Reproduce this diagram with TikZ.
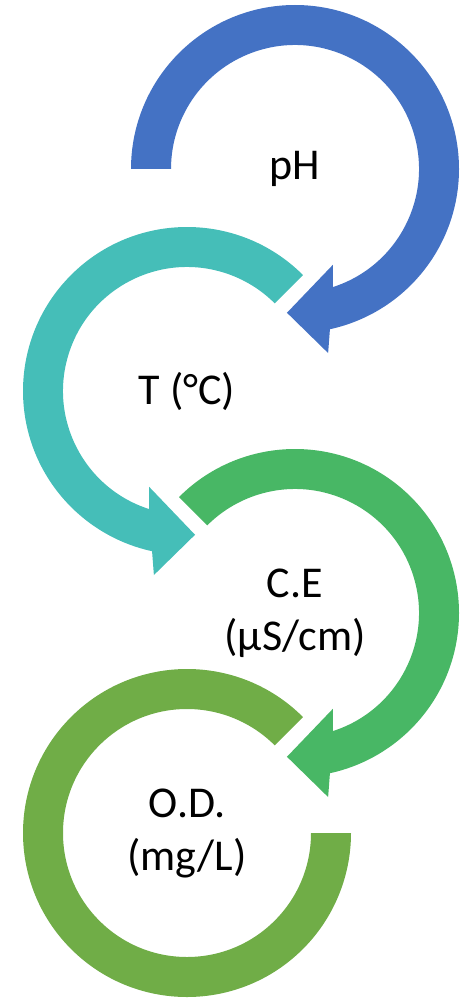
\documentclass[tikz,border=0pt]{standalone}
\usepackage{fontspec}
\setmainfont{Carlito}
\definecolor{cblue}{HTML}{4472C4}
\definecolor{cteal}{HTML}{45BEB8}
\definecolor{cgreen}{HTML}{48B765}
\definecolor{colive}{HTML}{70AD47}
\tikzset{
  lbl/.style={font=\fontsize{44}{53}\selectfont, align=center, text=black, inner sep=0pt},
}
\begin{document}
\begin{tikzpicture}[x=1pt,y=-1pt]
\useasboundingbox (0,0) rectangle (474,1003);
% blue (clockwise)
\begin{scope}[shift={(295,169)}]
\fill[cblue] (180:164) arc[start angle=180, end angle=437.7, radius=164]
  -- (79.8:187) -- (93.2:144) -- (68.4:103) -- (72.2:124)
  arc[start angle=432.2, end angle=180, radius=124] -- cycle;
\end{scope}
% teal (counter-clockwise)
\begin{scope}[shift={(187,391)}]
\fill[cteal] (315:164) arc[start angle=315, end angle=102.3, radius=164]
  -- (100.2:187) -- (86.8:144) -- (111.6:103) -- (107.8:124)
  arc[start angle=107.8, end angle=315, radius=124] -- cycle;
\end{scope}
% green (clockwise)
\begin{scope}[shift={(295,613)}]
\fill[cgreen] (225:164) arc[start angle=225, end angle=437.7, radius=164]
  -- (79.8:187) -- (93.2:144) -- (68.4:103) -- (72.2:124)
  arc[start angle=432.2, end angle=225, radius=124] -- cycle;
\end{scope}
% olive ring
\begin{scope}[shift={(187,833)}]
\fill[colive] (315:164) arc[start angle=315, end angle=0, radius=164]
  -- (0:124) arc[start angle=0, end angle=315, radius=124] -- cycle;
\end{scope}
\node[lbl] (ph) at (295,169) {pH};
\node[lbl] (t) at (187,391) {T (°C)};
\node[lbl] (ce) at (295,613) {C.E\\(µS/cm)};
\node[lbl] (od) at (187,833) {O.D.\\(mg/L)};
\end{tikzpicture}
\end{document}
